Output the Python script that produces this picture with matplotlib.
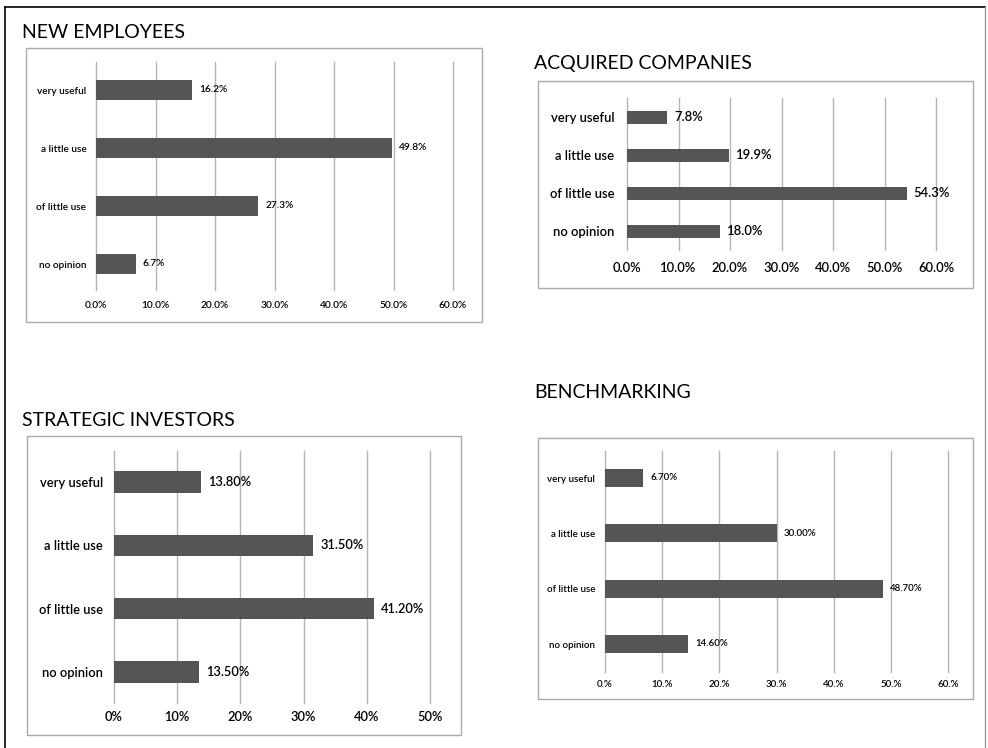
import matplotlib
matplotlib.use('Agg')
import matplotlib.pyplot as plt
from matplotlib.patches import Rectangle

plt.rcParams['font.family'] = ['Lato', 'DejaVu Sans']

categories = ['very useful', 'a little use', 'of little use', 'no opinion']

# survey results, percent
new_employees = [16.2, 49.8, 27.3, 6.7]
acquired_companies = [7.8, 19.9, 54.3, 18.0]
strategic_investors = [13.80, 31.50, 41.20, 13.50]
benchmarking = [6.70, 30.00, 48.70, 14.60]

new_employees_labels = ['16.2%', '49.8%', '27.3%', '6.7%']
acquired_labels = ['7.8%', '19.9%', '54.3%', '18.0%']
strategic_labels = ['13.80%', '31.50%', '41.20%', '13.50%']
benchmarking_labels = ['6.70%', '30.00%', '48.70%', '14.60%']

ticks_60 = [0, 10, 20, 30, 40, 50, 60]
ticks_50 = [0, 10, 20, 30, 40, 50]
tick_labels_dec = ['0.0%', '10.0%', '20.0%', '30.0%', '40.0%', '50.0%', '60.0%']
tick_labels_int = ['0%', '10%', '20%', '30%', '40%', '50%']
tick_labels_dot = ['0.%', '10.%', '20.%', '30.%', '40.%', '50.%', '60.%']

W, H = 988, 748
BAR = '#555555'
GRID = '#b4b4b4'
BOX = '#a9a9a9'
WEIGHT = 'semibold'

fig = plt.figure(figsize=(W / 100, H / 100), dpi=100)


def fx(x):
    return x / W


def fy(y):
    return 1 - y / H


def box(x0, y0, x1, y1, color=BOX, lw=1.0):
    fig.patches.append(Rectangle((fx(x0), fy(y1)), fx(x1 - x0), (y1 - y0) / H,
                                 transform=fig.transFigure, fill=False,
                                 edgecolor=color, lw=lw))


def panel(title, tx, ty, frame, left, right, top, bottom, centers,
          bar_px, values, labels, ticks, ticklabels, xmax, fs, tfs, pad):
    fig.text(fx(tx), fy(ty), title, fontsize=tfs, va='center', ha='left')
    box(*frame)
    ax = fig.add_axes([fx(left), fy(bottom), fx(right - left), (bottom - top) / H])
    step = (centers[-1] - centers[0]) / 3
    ylo = -(bottom - centers[-1]) / step
    yhi = 3 + (centers[0] - top) / step
    ypos = [3, 2, 1, 0]
    ax.barh(ypos, values, height=bar_px / step, color=BAR, zorder=3)
    for y, v, lab in zip(ypos, values, labels):
        ax.annotate(lab, (v, y), xytext=(5, 0), textcoords='offset points',
                    va='center', ha='left', fontsize=fs, fontweight=WEIGHT,
                    annotation_clip=False)
    ax.set_xlim(0, xmax)
    ax.set_ylim(ylo, yhi)
    ax.set_xticks(ticks)
    ax.set_xticklabels(ticklabels, fontsize=fs, fontweight=WEIGHT)
    ax.set_yticks(ypos)
    ax.set_yticklabels(categories, fontsize=fs, fontweight=WEIGHT)
    ax.tick_params(length=0, axis='x', pad=pad[0])
    ax.tick_params(length=0, axis='y', pad=pad[1])
    for s in ax.spines.values():
        s.set_visible(False)
    for t in ticks:
        ax.axvline(t, color=GRID, lw=1, zorder=1, clip_on=False)
    ax.patch.set_alpha(0)
    return ax


# outer frame
fig.add_artist(plt.Line2D([fx(5), fx(5)], [fy(7), 0], color='black', lw=1.2,
                          transform=fig.transFigure))
fig.add_artist(plt.Line2D([fx(5), fx(985)], [fy(7), fy(7)], color='black', lw=1.2,
                          transform=fig.transFigure))
fig.add_artist(plt.Line2D([fx(985), fx(985)], [fy(7), 0], color='#999999', lw=1,
                          transform=fig.transFigure))

panel('NEW EMPLOYEES', 22, 33, (26, 48, 482, 322), 96, 453, 62, 290,
      [90, 148, 206, 264], 20, new_employees, new_employees_labels,
      ticks_60, tick_labels_dec, 60, 7.3, 14, (8, 7))

panel('ACQUIRED COMPANIES', 534, 63, (538, 81, 973, 288), 627, 936, 98, 250,
      [117, 155, 193, 231], 13, acquired_companies, acquired_labels,
      ticks_60, tick_labels_dec, 60, 9.4, 14, (9, 9))

panel('STRATEGIC INVESTORS', 22, 420, (27, 436, 461, 735), 114, 430, 451, 703,
      [482, 545, 608, 672], 21.5, strategic_investors, strategic_labels,
      ticks_50, tick_labels_int, 50, 9.3, 14, (6, 8))

panel('BENCHMARKING', 534, 392, (538, 438, 973, 699), 605, 948, 451, 672,
      [478, 533, 588, 644], 18.3, benchmarking, benchmarking_labels,
      ticks_60, tick_labels_dot, 60, 7.0, 14, (6, 7))

fig.savefig('out.png', dpi=100, facecolor='white')
